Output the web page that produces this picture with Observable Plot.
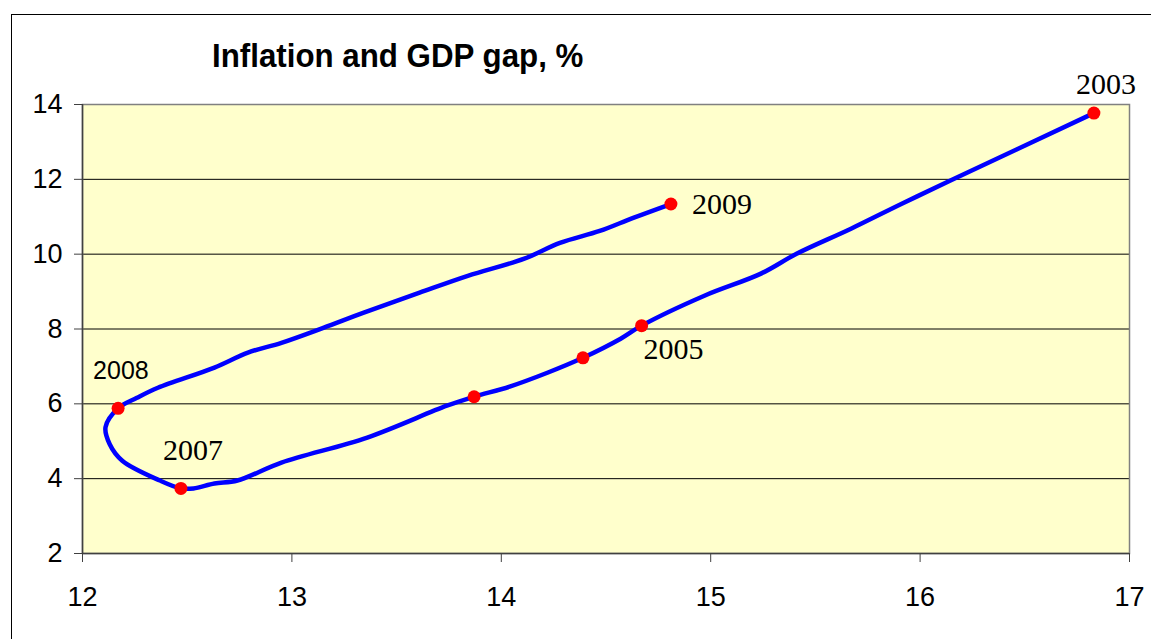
<!DOCTYPE html>
<html>
<head>
<meta charset="utf-8">
<script src="https://cdn.jsdelivr.net/npm/d3@7"></script>
<script src="https://cdn.jsdelivr.net/npm/@observablehq/plot@0.6"></script>
<style>
  html, body { margin: 0; padding: 0; background: #ffffff; }
  #wrap { position: relative; width: 1151px; height: 639px; overflow: hidden; background: #fff; }
  #border { position: absolute; left: 11px; top: 14px; width: 1200px; height: 700px;
            border-left: 1px solid #000; border-top: 1px solid #000; }
  #title { position: absolute; left: 212px; top: 38px; font-family: "Liberation Sans", Arial, sans-serif;
           font-weight: bold; font-size: 34px; line-height: 34px; white-space: nowrap;
           transform: scaleX(0.92); transform-origin: left top; color: #000; }
  #chart { position: absolute; left: 0; top: 0; }
</style>
</head>
<body>
<div id="wrap">
  <div id="border"></div>
  <div id="chart"></div>
  <div id="title">Inflation and GDP gap, %</div>
</div>
<script>
// Traced path of the smoothed curve (in chart units), ordered 2003 -> 2009
const curveX = [16.83, 16.15, 15.91, 15.67, 15.41, 15.24, 14.97, 14.67, 14.57, 14.39, 14.22, 14.04, 13.87, 13.74, 13.36, 12.95, 12.74, 12.63, 12.53, 12.47, 12.37, 12.19, 12.13, 12.11, 12.17, 12.26, 12.36, 12.63, 12.79, 12.95, 13.15, 13.34, 13.61, 13.84, 14.11, 14.28, 14.47, 14.63, 14.81];
const curveY = [13.77, 11.98, 11.34, 10.68, 10.01, 9.48, 8.89, 8.09, 7.74, 7.23, 6.83, 6.46, 6.19, 5.95, 5.10, 4.43, 3.95, 3.87, 3.74, 3.74, 3.95, 4.48, 4.92, 5.38, 5.88, 6.16, 6.43, 6.97, 7.37, 7.63, 8.03, 8.43, 8.97, 9.42, 9.88, 10.30, 10.62, 10.97, 11.34];

// Marked points
const markerYear = ["2003", "2005", "", "", "2007", "2008", "2009"];
const markerX = [16.83, 14.67, 14.39, 13.87, 12.47, 12.17, 14.81];
const markerY = [13.77, 8.09, 7.23, 6.19, 3.74, 5.88, 11.34];

// Axis ticks
const xTicks = [12, 13, 14, 15, 16, 17];
const yTicks = [2, 4, 6, 8, 10, 12, 14];

const curve = curveX.map((x, i) => ({x, y: curveY[i]}));
const markers = markerX.map((x, i) => ({x, y: markerY[i], year: markerYear[i]}));

// label placement styles (pixel offsets from marker)
const serif = "Liberation Serif, Times New Roman, serif";
const labelStyle = {
  "2003": {dx: 12, dy: -19, textAnchor: "middle", fontFamily: serif, fontSize: 30},
  "2009": {dx: 21, dy: 10, textAnchor: "start", fontFamily: serif, fontSize: 30},
  "2005": {dx: 2, dy: 33, textAnchor: "start", fontFamily: serif, fontSize: 30},
  "2007": {dx: -18, dy: -28, textAnchor: "start", fontFamily: serif, fontSize: 30},
  "2008": {dx: -25, dy: -29, textAnchor: "start", fontFamily: "Liberation Sans, Arial, sans-serif", fontSize: 25}
};

const labelMarks = Object.entries(labelStyle).map(([yr, s]) =>
  Plot.text(markers.filter(d => d.year === yr), {
    x: "x", y: "y", text: "year", lineAnchor: "bottom", fill: "#000", ...s
  })
);

const chart = Plot.plot({
  width: 1151,
  height: 639,
  marginLeft: 82,
  marginRight: 22,
  marginTop: 104,
  marginBottom: 86,
  style: {background: "transparent", fontFamily: "Liberation Sans, Arial, sans-serif", color: "#000"},
  x: {domain: [12, 17]},
  y: {domain: [2, 14]},
  marks: [
    Plot.frame({fill: "#FFFFCC", stroke: "none"}),
    Plot.ruleY(yTicks.filter(t => t > 2 && t < 14), {stroke: "#000", strokeWidth: 1}),
    Plot.frame({stroke: "#808080", strokeWidth: 1.5}),
    Plot.ruleX([12], {stroke: "#404040", strokeWidth: 1.5}),
    Plot.ruleY([2], {stroke: "#404040", strokeWidth: 1.5}),
    Plot.axisY({ticks: yTicks, tickFormat: d => String(d), tickSize: 8, tickPadding: 12, fontSize: 27, label: null, stroke: "#404040"}),
    Plot.axisX({ticks: xTicks, tickFormat: d => String(d), tickSize: 9, tickPadding: 24, fontSize: 27, label: null, stroke: "#404040"}),
    Plot.line(curve, {x: "x", y: "y", stroke: "#0000FF", strokeWidth: 4.5, curve: "catmull-rom"}),
    Plot.dot(markers, {x: "x", y: "y", r: 6.5, fill: "#FF0000", stroke: "none"}),
    ...labelMarks
  ]
});
document.getElementById("chart").appendChild(chart);
</script>
</body>
</html>
